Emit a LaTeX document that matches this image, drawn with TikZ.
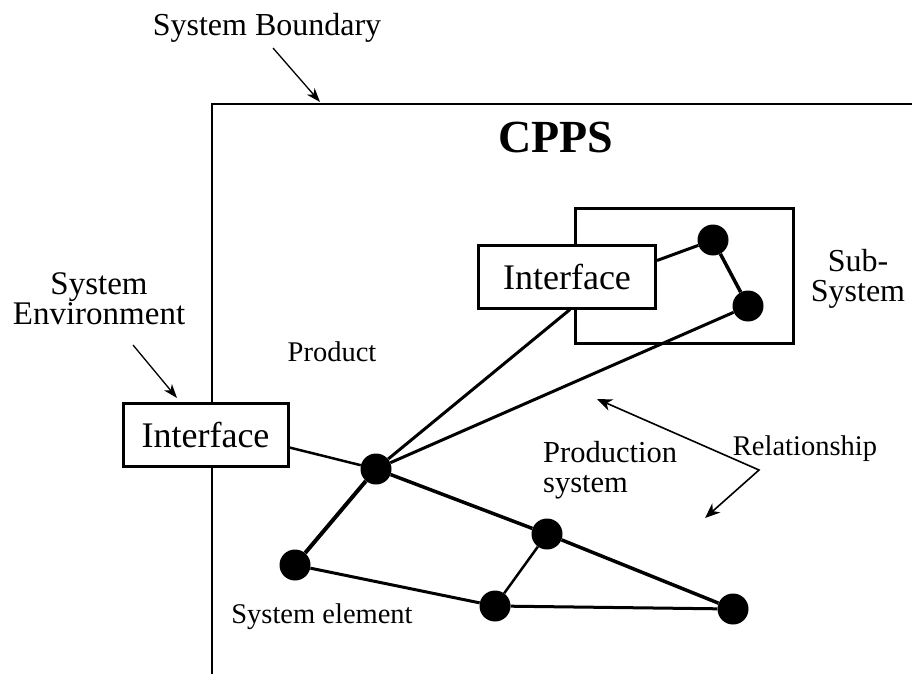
\documentclass[tikz,border=0pt]{standalone}
\usepackage{fontspec}
\setmainfont{Liberation Serif}
\usetikzlibrary{arrows.meta}
\begin{document}
\begin{tikzpicture}[x=1pt,y=-1pt,
  dot/.style={circle,fill=black,inner sep=0pt,minimum size=31pt},
  ifbox/.style={draw,line width=3pt,fill=white,inner sep=0pt,font=\fontsize{36}{38}\selectfont},
  subbox/.style={draw,line width=3pt,inner sep=0pt},
  bigtxt/.style={font=\fontsize{32}{30}\selectfont,align=center,inner sep=0pt},
  smalltxt/.style={font=\fontsize{28.5}{30}\selectfont,inner sep=0pt},
  pointer/.style={line width=1.3pt,-{Stealth[length=14pt,width=10pt,inset=4pt]}},
  rel/.style={line width=1.6pt,{Stealth[length=15pt,width=12pt,inset=4.5pt]}-{Stealth[length=15pt,width=12pt,inset=4.5pt]}},
  edge1/.style={line width=3.5pt},
  edge2/.style={line width=2.5pt}]
\useasboundingbox (0,0) rectangle (912,674);

% system boundary
\coordinate (bbot) at (212,674);
\coordinate (bcorner) at (212,104);
\coordinate (bright) at (912,104);
\draw[line width=2pt] (bbot) -- (bcorner) -- (bright);

% texts
\node[bigtxt] (sbt) at (267,28) {System Boundary};
\coordinate (sbtip) at (320,102);
\draw[pointer] (273,48) -- (sbtip);

\node[font=\fontsize{46}{48}\selectfont\bfseries,inner sep=0pt] (cpps) at (556,137) {CPPS};

% subsystem
\node[subbox,minimum width=218pt,minimum height=135pt] (sub) at (684,275.5) {};
\node[dot] (n1) at (713,240) {};
\node[dot] (n2) at (748,306) {};
\node[bigtxt,font=\fontsize{32}{30}\selectfont] (subt) at (858,279) {Sub-\\System};

% production system nodes
\node[dot] (c) at (376,469) {};
\node[dot] (m) at (547,534) {};
\node[dot] (l) at (295,565) {};
\node[dot] (b) at (495,606) {};
\node[dot] (r) at (733,609) {};

% edges
\draw[edge1] (n1) -- (n2);
\draw[edge1,line width=3pt] (n2) -- (c);
\draw[edge1,line width=4pt] (c) -- (l);
\draw[edge1] (c) -- (m);
\draw[edge1] (m) -- (r);
\draw[edge1,line width=3pt] (l) -- (b);
\draw[edge1,line width=3pt] (b) -- (r);
\draw[edge2] (b) -- (m);

% interfaces
\node[ifbox,minimum width=177pt,minimum height=63pt] (ifu) at (567,276.5) {Interface};
\node[ifbox,minimum width=165pt,minimum height=63pt] (ifl) at (205.5,434.5) {Interface};
\draw[edge1,line width=3pt] ([yshift=16pt]ifu.east) -- (n1);
\draw[edge1,line width=3pt] ([xshift=3pt]ifu.south) -- (c);
\draw[edge2] ([yshift=-13pt]ifl.east) -- (c);

\node[bigtxt,font=\fontsize{33}{30}\selectfont] (envt) at (99,299) {System\\Environment};
\coordinate (envtip) at (177,398);
\draw[pointer] (133,345) -- (envtip);

\node[smalltxt] (prod) at (332,352) {Product};
\node[font=\fontsize{30.5}{30}\selectfont,align=left,inner sep=0pt,anchor=west] (pst) at (543,470) {Production\\system};
\node[smalltxt] (relt) at (805,449) {Relationship};
\coordinate (ra) at (597,399);
\coordinate (rv) at (759,470);
\coordinate (rb) at (705,518);
\draw[rel] (ra) -- (rv) -- (rb);

\node[smalltxt] (set) at (322,617) {System element};
\end{tikzpicture}
\end{document}
